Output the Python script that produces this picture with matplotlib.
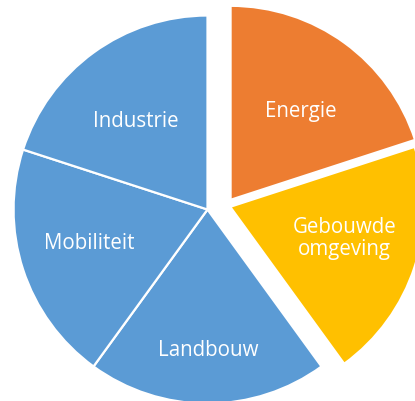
import numpy as np
import matplotlib.pyplot as plt

# Data
sectoren = ["Energie", "Gebouwde\nomgeving", "Landbouw", "Mobiliteit", "Industrie"]
aandeel = [1, 1, 1, 1, 1]
kleuren = ["#ED7D31", "#FFC000", "#5B9BD5", "#5B9BD5", "#5B9BD5"]

# uitschuiven van de twee gemarkeerde segmenten (in straal-eenheden)
verschuiving = [(0.119, 0.050), (0.117, 0.014), (0, 0), (0, 0), (0, 0)]
# labelpositie (basislijn): afstand tot middelpunt en afwijking van de bissectrice (graden)
label_afstand = [0.561, 0.640, 0.755, 0.645, 0.563]
label_hoek = [-4.2, -4.8, 0.3, 0.4, 5.2]

fig = plt.figure(figsize=(4.15, 4.01), dpi=100)
ax = fig.add_axes([0, 0, 1, 1])

wedges, texts = ax.pie(aandeel, labels=sectoren, colors=kleuren, startangle=90,
                       counterclock=False, labeldistance=0.6,
                       wedgeprops=dict(edgecolor="white", linewidth=1.6),
                       textprops=dict(color="white", fontsize=14.8, family="Open Sans",
                                      linespacing=1.08))

for w, t, (dx, dy), r, dh in zip(wedges, texts, verschuiving, label_afstand, label_hoek):
    w.set_center((dx, dy))
    mid = np.deg2rad((w.theta1 + w.theta2) / 2 + dh)
    t.set_position((dx + r * np.cos(mid), dy + r * np.sin(mid)))
    t.set_ha("center")
    t.set_va("baseline")
    t.set_multialignment("center")

ax.set_xlim(-1.070, 1.070)
ax.set_ylim(-0.987, 1.080)
ax.set_aspect("auto")
ax.axis("off")

fig.savefig("out.png", dpi=100)
